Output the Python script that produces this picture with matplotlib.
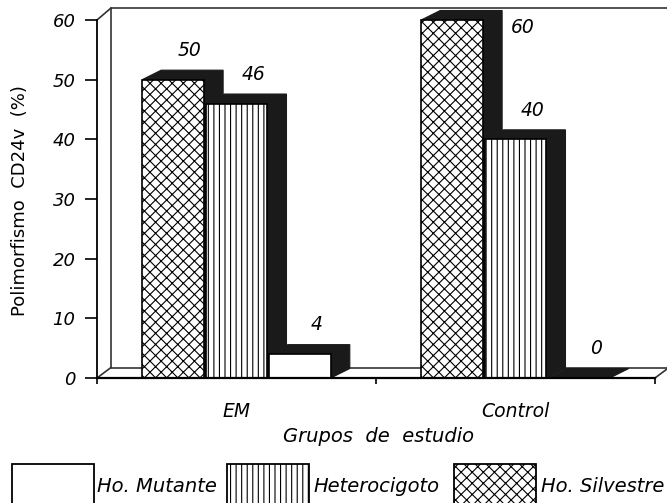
import matplotlib
matplotlib.use('Agg')
import matplotlib.pyplot as plt
from matplotlib.patches import Polygon, Rectangle

plt.rcParams['font.family'] = ['DejaVu Sans']
plt.rcParams['hatch.linewidth'] = 0.8
plt.rcParams['hatch.color'] = 'black'

# data
groups = ['EM', 'Control']
series = ['Ho. Silvestre', 'Heterocigoto', 'Ho. Mutante']
values = {
    'Ho. Silvestre': [50, 60],
    'Heterocigoto': [46, 40],
    'Ho. Mutante': [4, 0],
}
hatches = {'Ho. Silvestre': 'xxx', 'Heterocigoto': '|||', 'Ho. Mutante': ''}
legend_order = ['Ho. Mutante', 'Heterocigoto', 'Ho. Silvestre']

W, H = 667, 503
fig = plt.figure(figsize=(W / 100, H / 100), dpi=100)
ax = fig.add_axes([97 / W, (H - 378) / H, (655 - 97) / W, (378 - 20) / H])
ax.set_xlim(0, 2)
ax.set_ylim(0, 60)

# pseudo-3D depth (data units)
px_x = 2 / (655 - 97)
px_y = 60 / (378 - 20)
wdx, wdy = 14 * px_x, 12 * px_y      # wall depth
bdx, bdy = 19 * px_x, 9.5 * px_y     # bar depth
wall_kw = dict(color='#333333', lw=1.2, clip_on=False, zorder=1)

# back wall + floor + side wall outlines
ax.plot([wdx, wdx, 2 + wdx, 2 + wdx], [wdy - 1.2 * px_y, 60 + wdy, 60 + wdy, wdy],
        **wall_kw)
ax.plot([wdx, 2 + wdx], [wdy - 1.5 * px_y, wdy - 1.5 * px_y], **wall_kw)
ax.plot([0, wdx], [60, 60 + wdy], **wall_kw)
ax.plot([0, wdx], [0, wdy - 1.5 * px_y], **wall_kw)
ax.plot([2, 2 + wdx], [0, wdy - 1.5 * px_y], **wall_kw)

width = 0.222
step = 0.227
z = 3
for g, name in enumerate(groups):
    for s, ser in enumerate(series):
        v = values[ser][g]
        xc = g + 0.5 + (s - 1) * step
        x0, x1 = xc - width / 2, xc + width / 2
        depth = Polygon([(x0, v), (x0 + bdx, v + bdy), (x1 + bdx, v + bdy),
                         (x1 + bdx, bdy), (x1, 0), (x1, v)],
                        closed=True, fc='#1a1a1a', ec='#1a1a1a', lw=0.8,
                        clip_on=False, zorder=z)
        ax.add_patch(depth)
        if v > 0:
            ax.bar(xc, v, width=width, color='white', edgecolor='black',
                   hatch=hatches[ser], lw=1.2, zorder=z + 1, clip_on=False)
        z += 2
        # value label
        if v + 4.8 > 62:
            lx, ly = x1 + bdx + 0.072, v - 1.3
        else:
            lx, ly = xc + 0.06, v + 4.9
        ax.text(lx, ly, str(v), ha='center', va='center', fontsize=13.5,
                style='italic', zorder=20)

# axes styling
for sp in ['top', 'right']:
    ax.spines[sp].set_visible(False)
ax.spines['left'].set_linewidth(1.3)
ax.spines['bottom'].set_linewidth(1.6)
ax.spines['bottom'].set_zorder(30)
ax.set_yticks(range(0, 61, 10))
ax.set_yticklabels([str(t) for t in range(0, 61, 10)], fontsize=13, style='italic')
ax.tick_params(axis='y', direction='out', length=8.5, width=1.2, pad=7)
ax.set_xticks([0, 1, 2])
ax.set_xticklabels([])
ax.tick_params(axis='x', which='major', direction='out', length=4.5, width=1.2)
ax.set_xticks([0.5, 1.5], minor=True)
ax.set_xticklabels(groups, minor=True, fontsize=13.5, style='italic')
ax.tick_params(axis='x', which='minor', length=0, pad=17)
ax.set_xlabel('Grupos  de  estudio', fontsize=14, style='italic')
ax.xaxis.set_label_coords(0.505, (378 - 427) / (378 - 20))
ax.set_ylabel('Polimorfismo  CD24v  (%)', fontsize=13)
ax.yaxis.set_label_coords((29 - 97) / (655 - 97), (378 - 201) / (378 - 20))

# legend drawn in pixel coordinates
lax = fig.add_axes([0, 0, 1, 1], zorder=-1)
lax.set_xlim(0, W)
lax.set_ylim(H, 0)
lax.axis('off')
box_x = [12, 227, 454]
text_x = [97, 313, 541]
for bx, tx, ser in zip(box_x, text_x, legend_order):
    lax.add_patch(Rectangle((bx, 464), 82, 60, fc='white', ec='black',
                            lw=1.3, hatch=hatches[ser]))
    lax.text(tx, 487, ser, fontsize=14, style='italic', va='center', ha='left')

fig.savefig('out.png', dpi=100)
